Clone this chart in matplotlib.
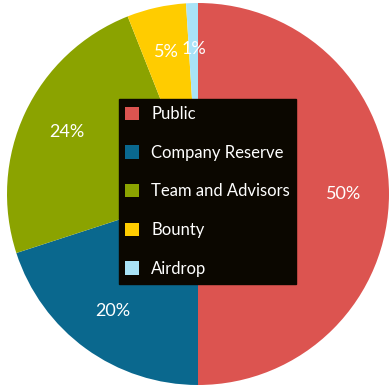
import matplotlib
matplotlib.use("Agg")
import matplotlib.pyplot as plt

categories = ["Public", "Company Reserve", "Team and Advisors", "Bounty", "Airdrop"]
values = [50, 20, 24, 5, 1]
colors = ["#dc5450", "#0a688e", "#8ba300", "#ffcc00", "#a9e3f7"]

plt.rcParams['font.family'] = ['Lato', 'DejaVu Sans']

fig = plt.figure(figsize=(3.92, 3.90), dpi=100)
fig.patch.set_alpha(0)
ax = fig.add_axes([7/392, 5/390, 382/392, 382/390])
wedges, texts, autotexts = ax.pie(
    values, colors=colors, startangle=90, counterclock=False,
    autopct=lambda p: f"{p:.0f}%", pctdistance=0.76,
    wedgeprops=dict(linewidth=0, antialiased=True),
    textprops=dict(color="white", fontsize=13, fontweight="normal"))
ax.set_aspect('equal')
ax.set_xlim(-1, 1)
ax.set_ylim(-1, 1)

leg = ax.legend(wedges, categories, loc='center',
                bbox_to_anchor=(207.5/392, 1 - 191.5/390), bbox_transform=fig.transFigure,
                frameon=True, fancybox=False, facecolor='#0b0700', edgecolor='#0b0700',
                framealpha=1, fontsize=12, labelcolor='white',
                handlelength=0.85, handleheight=0.85, handletextpad=0.7,
                labelspacing=1.36, borderpad=0.4, borderaxespad=0)
for h in leg.legend_handles:
    h.set_linewidth(0)

fig.savefig("out.png", dpi=100, transparent=True)
